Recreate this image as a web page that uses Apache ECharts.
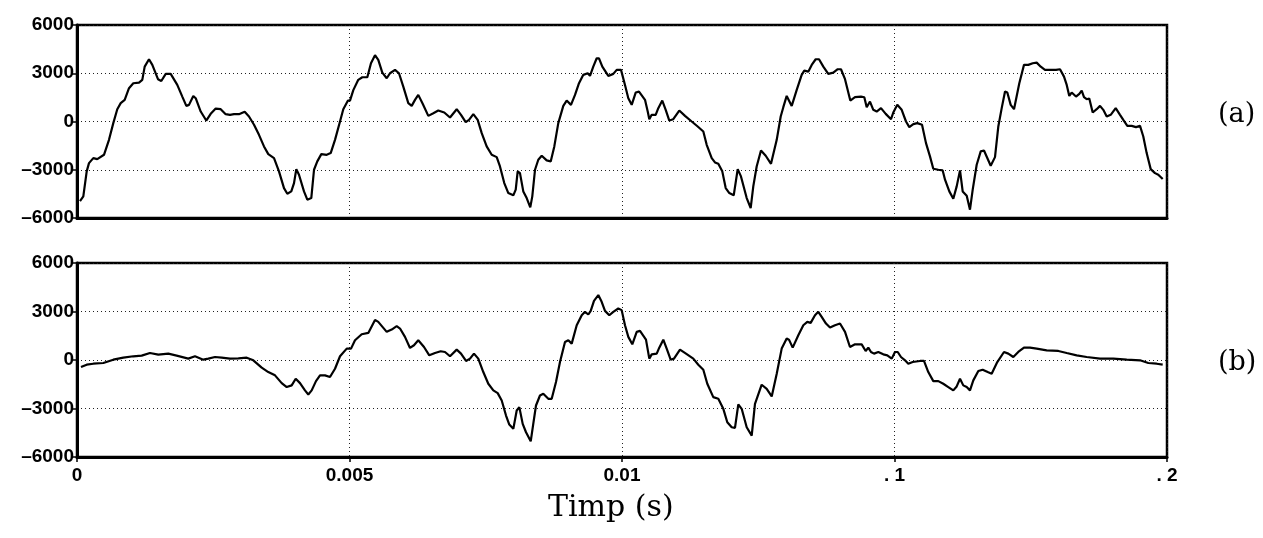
<!DOCTYPE html>
<html>
<head>
<meta charset="utf-8">
<script src="https://cdn.jsdelivr.net/npm/echarts@6/dist/echarts.min.js"></script>
<style>
html,body{margin:0;padding:0;background:#fff;}
#chart{width:1263px;height:538px;}
</style>
</head>
<body>
<div id="chart"></div>
<script>
// time in milliseconds, amplitude
const waveA = [[0.055,-4950],[0.116,-4655],[0.178,-3100],[0.220,-2590],[0.299,-2275],[0.372,-2340],[0.495,-2070],[0.587,-1140],[0.666,-100],[0.739,765],[0.802,1140],[0.875,1345],[0.954,2070],[1.033,2380],[1.138,2420],[1.198,2590],[1.242,3410],[1.321,3870],[1.382,3520],[1.486,2630],[1.547,2520],[1.628,2960],[1.719,2960],[1.840,2280],[1.932,1550],[2.006,970],[2.055,1035],[2.134,1590],[2.178,1450],[2.270,620],[2.372,60],[2.453,475],[2.545,805],[2.637,765],[2.728,455],[2.807,415],[2.881,455],[2.972,455],[3.077,600],[3.156,310],[3.248,-205],[3.339,-830],[3.431,-1550],[3.510,-2030],[3.615,-2275],[3.706,-3100],[3.798,-4140],[3.859,-4490],[3.932,-4345],[3.982,-3830],[4.024,-2960],[4.073,-3310],[4.165,-4345],[4.226,-4860],[4.299,-4760],[4.349,-3000],[4.409,-2480],[4.483,-2030],[4.582,-2070],[4.655,-1965],[4.734,-1140],[4.826,0],[4.886,765],[4.972,1300],[5.009,1300],[5.070,1950],[5.161,2590],[5.235,2750],[5.327,2750],[5.394,3620],[5.468,4120],[5.528,3830],[5.602,3040],[5.683,2690],[5.743,3000],[5.835,3210],[5.908,3000],[5.987,2170],[6.079,1140],[6.141,970],[6.202,1345],[6.262,1655],[6.343,1100],[6.446,350],[6.538,515],[6.629,680],[6.739,560],[6.844,250],[6.967,765],[7.046,415],[7.132,-40],[7.193,100],[7.272,455],[7.352,100],[7.426,-725],[7.517,-1550],[7.609,-2070],[7.701,-2215],[7.761,-2795],[7.840,-3830],[7.914,-4450],[8.006,-4590],[8.050,-4240],[8.086,-3100],[8.128,-3210],[8.189,-4345],[8.251,-4760],[8.317,-5340],[8.354,-4655],[8.404,-3000],[8.464,-2380],[8.527,-2130],[8.618,-2420],[8.692,-2480],[8.758,-1550],[8.831,-100],[8.923,970],[8.985,1300],[9.064,1035],[9.138,1655],[9.211,2380],[9.290,2900],[9.371,3000],[9.413,2835],[9.473,3410],[9.536,3930],[9.578,3930],[9.639,3410],[9.749,2835],[9.840,2960],[9.903,3210],[9.982,3210],[10.055,2275],[10.116,1450],[10.178,1035],[10.251,1800],[10.312,1860],[10.422,1345],[10.472,620],[10.501,145],[10.545,415],[10.618,415],[10.666,830],[10.739,1300],[10.802,725],[10.868,60],[10.941,145],[11.051,680],[11.156,350],[11.279,0],[11.389,-310],[11.492,-620],[11.554,-1450],[11.646,-2275],[11.706,-2545],[11.767,-2630],[11.840,-3100],[11.903,-4140],[11.969,-4450],[12.050,-4590],[12.123,-2960],[12.183,-3415],[12.288,-4760],[12.361,-5380],[12.409,-4035],[12.471,-2795],[12.550,-1800],[12.637,-2130],[12.734,-2630],[12.839,-1140],[12.912,310],[12.960,890],[13.022,1590],[13.051,1590],[13.114,970],[13.206,1965],[13.297,2900],[13.345,3165],[13.418,3100],[13.481,3520],[13.554,3870],[13.615,3870],[13.694,3410],[13.785,2960],[13.877,3040],[13.958,3250],[14.018,3250],[14.092,2630],[14.141,1965],[14.189,1300],[14.275,1510],[14.385,1550],[14.446,1510],[14.490,890],[14.550,1240],[14.611,725],[14.673,620],[14.752,830],[14.839,475],[14.936,145],[14.978,560],[15.051,1035],[15.132,725],[15.211,0],[15.272,-350],[15.345,-165],[15.418,-100],[15.505,-205],[15.578,-1345],[15.651,-2170],[15.712,-2940],[15.804,-3000],[15.884,-3040],[15.927,-3620],[16.006,-4345],[16.079,-4800],[16.141,-4035],[16.202,-3040],[16.251,-4345],[16.325,-4615],[16.385,-5480],[16.435,-4240],[16.508,-2690],[16.582,-1860],[16.642,-1800],[16.765,-2750],[16.844,-2215],[16.905,-310],[16.967,830],[17.028,1860],[17.070,1800],[17.132,1035],[17.193,765],[17.290,2380],[17.376,3520],[17.455,3520],[17.536,3620],[17.609,3660],[17.683,3410],[17.761,3210],[17.853,3210],[17.963,3210],[18.037,3250],[18.110,2790],[18.160,2275],[18.207,1590],[18.251,1800],[18.330,1550],[18.391,1720],[18.435,1925],[18.477,1510],[18.526,1385],[18.574,1430],[18.637,560],[18.710,765],[18.771,970],[18.831,725],[18.894,310],[18.967,415],[19.059,830],[19.138,415],[19.198,100],[19.272,-270],[19.352,-270],[19.431,-350],[19.505,-270],[19.565,-930],[19.627,-1965],[19.701,-2960],[19.780,-3210],[19.840,-3310],[19.921,-3580]];

const waveB = [[0.073,-435],[0.178,-290],[0.299,-230],[0.483,-185],[0.666,20],[0.850,145],[1.033,230],[1.187,270],[1.339,435],[1.492,330],[1.675,395],[1.829,270],[2.042,85],[2.165,230],[2.317,20],[2.409,85],[2.532,185],[2.655,145],[2.807,85],[2.960,105],[3.114,145],[3.235,-20],[3.389,-475],[3.510,-745],[3.633,-950],[3.756,-1430],[3.848,-1675],[3.939,-1570],[4.013,-1160],[4.092,-1430],[4.183,-1880],[4.244,-2130],[4.306,-1880],[4.385,-1305],[4.459,-950],[4.550,-950],[4.642,-1055],[4.734,-540],[4.826,230],[4.949,705],[5.028,705],[5.101,1220],[5.224,1595],[5.345,1675],[5.468,2480],[5.528,2360],[5.683,1740],[5.774,1880],[5.866,2090],[5.927,1945],[6.018,1430],[6.110,745],[6.183,910],[6.262,1220],[6.367,805],[6.464,290],[6.569,435],[6.673,540],[6.752,495],[6.844,230],[6.967,640],[7.046,395],[7.138,-60],[7.211,85],[7.284,395],[7.363,85],[7.455,-745],[7.547,-1470],[7.639,-1880],[7.719,-2050],[7.793,-2505],[7.872,-3435],[7.932,-3995],[8.006,-4260],[8.068,-3125],[8.116,-2915],[8.178,-3950],[8.239,-4470],[8.325,-5030],[8.372,-3950],[8.422,-2815],[8.495,-2195],[8.556,-2090],[8.648,-2400],[8.710,-2400],[8.789,-1365],[8.862,-125],[8.954,1115],[9.015,1220],[9.077,1015],[9.169,2150],[9.261,2770],[9.321,2980],[9.382,2815],[9.426,3040],[9.486,3660],[9.565,4015],[9.627,3600],[9.688,3040],[9.767,2770],[9.840,2980],[9.932,3185],[9.994,3085],[10.055,2150],[10.116,1430],[10.189,970],[10.270,1740],[10.330,1800],[10.440,1260],[10.501,85],[10.545,350],[10.637,395],[10.684,765],[10.758,1260],[10.820,705],[10.893,20],[10.954,85],[11.064,640],[11.174,395],[11.308,85],[11.400,-290],[11.492,-600],[11.565,-1470],[11.675,-2295],[11.767,-2400],[11.859,-3020],[11.932,-3850],[12.013,-4160],[12.073,-4200],[12.134,-2750],[12.196,-3020],[12.288,-4160],[12.380,-4675],[12.440,-2710],[12.563,-1530],[12.655,-1780],[12.747,-2255],[12.839,-850],[12.930,705],[13.022,1325],[13.064,1260],[13.132,765],[13.235,1530],[13.327,2150],[13.400,2360],[13.462,2295],[13.541,2770],[13.602,2980],[13.664,2670],[13.743,2255],[13.817,2005],[13.908,2150],[14.000,2255],[14.092,1740],[14.183,805],[14.275,970],[14.398,970],[14.471,560],[14.519,765],[14.569,495],[14.624,395],[14.703,495],[14.794,350],[14.868,290],[14.949,85],[15.009,495],[15.059,495],[15.119,185],[15.193,-20],[15.253,-230],[15.334,-125],[15.468,-60],[15.541,-60],[15.620,-745],[15.712,-1305],[15.804,-1305],[15.895,-1470],[15.987,-1675],[16.079,-1880],[16.141,-1635],[16.202,-1160],[16.262,-1570],[16.325,-1675],[16.385,-1880],[16.446,-1260],[16.538,-685],[16.618,-600],[16.710,-745],[16.783,-850],[16.886,-125],[17.009,495],[17.088,395],[17.180,185],[17.271,495],[17.376,765],[17.486,765],[17.609,705],[17.792,600],[18.006,560],[18.160,435],[18.343,290],[18.526,185],[18.771,85],[19.015,85],[19.261,20],[19.505,-20],[19.657,-185],[19.811,-230],[19.921,-290]];

const xTickLabels = ['0', '0.005', '0.01', '. 1', '. 2'];
const yTickLabels = ['\u20136000', '\u20133000', '0', '3000', '6000'];
const xAxisTitle = 'Timp (s)';
const panelLabels = ['(a)', '(b)'];

const chart = echarts.init(document.getElementById('chart'), null, {renderer: 'canvas'});

const sans = '"Liberation Sans", Arial, sans-serif';
const serif = '"DejaVu Serif", "Liberation Serif", serif';
const gridLine = {show: true, lineStyle: {color: '#222', width: 1, type: [1, 3]}};

function xAxisFor(idx, showLabels) {
  return {
    gridIndex: idx, type: 'value', min: 0, max: 20, interval: 5,
    axisLine: {show: true, onZero: false, lineStyle: {color: '#000', width: 3}},
    axisTick: {show: showLabels, length: 5, inside: false, lineStyle: {color: '#000', width: 1.5}},
    axisLabel: {show: showLabels, color: '#000', fontFamily: sans, fontWeight: 'bold', fontSize: 19, margin: 9,
      formatter: v => xTickLabels[Math.round(v / 5)]},
    splitLine: gridLine
  };
}
function yAxisFor(idx) {
  return {
    gridIndex: idx, type: 'value', min: -6000, max: 6000, interval: 3000,
    axisLine: {show: true, lineStyle: {color: '#000', width: 3}},
    axisTick: {show: true, length: 6, lineStyle: {color: '#000', width: 1.5}},
    axisLabel: {color: '#000', fontFamily: sans, fontWeight: 'bold', fontSize: 19, margin: 3,
      formatter: v => yTickLabels[Math.round((v + 6000) / 3000)]},
    splitLine: gridLine
  };
}

chart.setOption({
  animation: false,
  backgroundColor: '#fff',
  grid: [
    {left: 77, top: 25, width: 1090, height: 193, show: true, borderColor: '#000', borderWidth: 2.5, backgroundColor: 'transparent'},
    {left: 77, top: 263, width: 1090, height: 194, show: true, borderColor: '#000', borderWidth: 2.5, backgroundColor: 'transparent'}
  ],
  xAxis: [xAxisFor(0, false), xAxisFor(1, true)],
  yAxis: [yAxisFor(0), yAxisFor(1)],
  series: [
    {type: 'line', xAxisIndex: 0, yAxisIndex: 0, data: waveA, showSymbol: false, smooth: false,
      lineStyle: {color: '#000', width: 2.2}},
    {type: 'line', xAxisIndex: 1, yAxisIndex: 1, data: waveB, showSymbol: false, smooth: false,
      lineStyle: {color: '#000', width: 2.2}}
  ],
  graphic: [
    {type: 'text', left: 1218, top: 101, style: {text: panelLabels[0], font: '27px ' + serif, fill: '#000'}},
    {type: 'text', left: 1218, top: 349, style: {text: panelLabels[1], font: '27px ' + serif, fill: '#000'}},
    {type: 'text', left: 548, top: 493, style: {text: xAxisTitle, font: '30px ' + serif, fill: '#000'}}
  ]
});
</script>
</body>
</html>
